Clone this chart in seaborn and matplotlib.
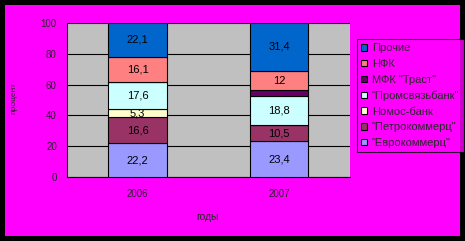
import matplotlib
matplotlib.use("Agg")
import matplotlib.pyplot as plt
import seaborn as sns
import pandas as pd
import numpy as np
from matplotlib.patches import Rectangle, Patch

years = ["2006", "2007"]
series = ['"Еврокоммерц"', '"Петрокоммерц"', 'Номос-банк', '"Промсвязьбанк"',
          'МФК "Траст"', 'НФК', 'Прочие']
evrokommerc = [22.2, 23.4]
petrokommerc = [16.6, 10.5]
nomos = [5.3, 0.0]
promsvyaz = [17.6, 18.8]
trast = [0.0, 3.9]
nfk = [16.1, 12.0]
prochie = [22.1, 31.4]
values = [evrokommerc, petrokommerc, nomos, promsvyaz, trast, nfk, prochie]
labels_show = [[True, True], [True, True], [True, False], [True, True],
               [False, False], [True, True], [True, True]]
colors = ["#9999FF", "#993366", "#FFFFCC", "#CCFFFF", "#660066", "#FF8080", "#0066CC"]

sns.set_style("white")
plt.rcParams['font.family'] = ['Liberation Sans', 'DejaVu Sans']

W, H = 465, 241
fig = plt.figure(figsize=(W / 100, H / 100), dpi=100)
fig.patch.set_facecolor("black")
fig.patches.append(Rectangle((5 / W, 5 / H), 455 / W, 231 / H, transform=fig.transFigure,
                             facecolor="#FF00FF", edgecolor="none", zorder=-10))

ax = fig.add_axes([66.7 / W, 1 - 177.3 / H, (350 - 66.7) / W, (177.3 - 22.7) / H])
ax.set_zorder(2)
ax.set_facecolor("#C0C0C0")

bottom = np.zeros(len(years))
for name, vals, col, show in zip(series, values, colors, labels_show):
    df = pd.DataFrame({"year": years, "v": vals})
    sns.barplot(data=df, x="year", y="v", color=col, width=0.41, ax=ax,
                bottom=bottom.copy(), edgecolor="black", linewidth=0.8,
                saturation=1, zorder=3)
    for i, (v, s) in enumerate(zip(vals, show)):
        if s:
            ax.text(i, bottom[i] + v / 2, f"{v:g}".replace(".", ","), ha="center",
                    va="center", fontsize=8, color="black", zorder=5)
    bottom = bottom + np.array(vals)

ax.set_ylim(0, 100)
ax.set_xlim(-0.5, 1.5)
ax.set_yticks([0, 20, 40, 60, 80, 100])
ax.set_yticklabels(["0", "20", "40", "60", "80", "100"], fontsize=7)
ax.yaxis.grid(True, color="black", linewidth=0.8, zorder=1)
ax.set_axisbelow(True)
ax.tick_params(axis="y", direction="out", length=3.6, width=0.8, color="black", pad=3.5)
ax.tick_params(axis="x", which="major", length=0, labelsize=7, pad=8.5)
ax.set_xticks([-0.5, 0.5, 1.5], minor=True)
ax.tick_params(axis="x", which="minor", direction="out", length=2.2, width=0.8, color="black")
for s in ["top", "right"]:
    ax.spines[s].set_visible(False)
for s in ["left", "bottom"]:
    ax.spines[s].set_color("black")
    ax.spines[s].set_linewidth(0.8)
ax.set_xlabel("")
ax.set_ylabel("")
fig.text(207 / W, 1 - 216.5 / H, "годы", fontsize=7.5, ha="center", va="center")
fig.text(13.5 / W, 1 - 97.5 / H, "процент", fontsize=6, ha="center", va="center",
         rotation=90)

handles = [Patch(facecolor=c, edgecolor="black", linewidth=0.8, label=n)
           for n, c in zip(series, colors)][::-1]
leg = fig.legend(handles=handles, loc="upper left", bbox_to_anchor=(357 / W, 1 - 39 / H),
                 frameon=True, fontsize=8, handlelength=0.54, handleheight=0.54,
                 handletextpad=0.4, labelspacing=0.51, borderpad=0.4, borderaxespad=0,
                 fancybox=False)
leg.get_frame().set_facecolor("#FF00FF")
leg.get_frame().set_edgecolor("black")
leg.get_frame().set_linewidth(0.8)

fig.savefig("out.png", dpi=100, facecolor=fig.get_facecolor())
